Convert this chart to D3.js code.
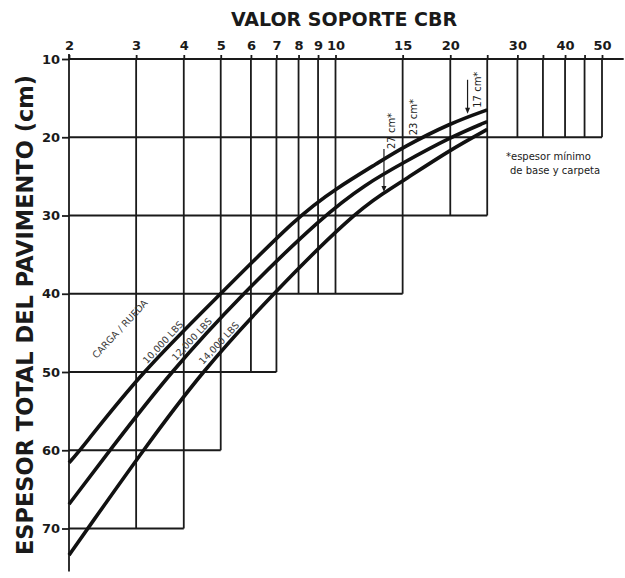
<!DOCTYPE html>
<html>
<head>
<meta charset="utf-8">
<script src="https://cdn.jsdelivr.net/npm/d3@7"></script>
<style>
  html, body { margin: 0; padding: 0; background: #fff; }
  svg { display: block; }
</style>
</head>
<body>
<svg id="chart" width="625" height="578"></svg>
<script>
// CBR axis ticks (log scale) and their printed labels
const cbrTicks  = [2, 3, 4, 5, 6, 7, 8, 9, 10, 15, 20, 25, 30, 35, 40, 45, 50];
const cbrLabels = ["2","3","4","5","6","7","8","9","10","15","20","","30","","40","","50"];
// depth (cm) reached by each vertical guide line
const cbrLineDepth = [75.5, 70, 70, 60, 50, 50, 40, 40, 40, 40, 30, 30, 20, 20, 20, 20, 20];

// thickness ticks and the CBR value each horizontal guide reaches
const cmTicks = [10, 20, 30, 40, 50, 60, 70];
const cmLineReach = [57, 50, 25, 15, 7, 5, 4];

// design curves: total pavement thickness vs CBR, one per wheel load
const cbr10k = [2, 2.14, 3.1, 5, 8, 10, 13, 15, 20, 25];
const cm10k  = [61.6, 60, 50, 40, 30, 26.6, 23.2, 21.3, 18.2, 16.5];
const cbr12k = [2, 2.56, 3.69, 5.7, 9.3, 12, 15, 20, 25];
const cm12k  = [66.9, 60, 50, 40, 30, 26.0, 23.3, 20.0, 18.0];
const cbr14k = [2, 2.24, 3.13, 4.45, 6.85, 11.0, 13.5, 15, 20, 25];
const cm14k  = [73.4, 70, 60, 50, 40, 30, 27.0, 25.6, 21.6, 19.0];

// curve labels placed at (CBR, cm)
const loadLabels = ["CARGA / RUEDA", "10,000 LBS", "12,000 LBS", "14,000 LBS"];
const loadLabelCbr = [2.72, 3.53, 4.20, 4.95];
const loadLabelCm  = [44.5, 46.2, 45.8, 46.3];

// minimum base + surface thickness notes
const minTexts = ["27 cm*", "23 cm*", "17 cm*"];
const minCbr   = [13.4, 15, 22.2];
const minCm    = [27, 23, 17];

const svg = d3.select("#chart");
const x = d3.scaleLog().domain([2, 50]).range([69, 602]);
const y = d3.scaleLinear().domain([10, 70]).range([59, 528.5]);

const ink = "#1a1a1a";
const font = "'DejaVu Sans', sans-serif";

// title
svg.append("text")
  .attr("x", 344).attr("y", 26)
  .attr("text-anchor", "middle")
  .attr("font-family", font).attr("font-weight", "bold")
  .attr("font-size", 19).attr("fill", ink)
  .text("VALOR SOPORTE CBR");

// y title
svg.append("text")
  .attr("transform", `translate(33,${315}) rotate(-90)`)
  .attr("text-anchor", "middle")
  .attr("font-family", font).attr("font-weight", "bold")
  .attr("font-size", 22.5).attr("fill", ink)
  .text("ESPESOR TOTAL DEL PAVIMENTO (cm)");

// guide grid
const grid = svg.append("g").attr("stroke", ink).attr("stroke-width", 1.8).attr("fill", "none");
grid.selectAll("line.v").data(cbrTicks).join("line").attr("class", "v")
  .attr("x1", d => x(d)).attr("x2", d => x(d))
  .attr("y1", (d, i) => i === 0 ? y(10) - 5 : y(10))
  .attr("y2", (d, i) => y(cbrLineDepth[i]));
grid.selectAll("line.h").data(cmTicks).join("line").attr("class", "h")
  .attr("x1", x(2)).attr("x2", (d, i) => x(cmLineReach[i]))
  .attr("y1", d => y(d)).attr("y2", d => y(d));

// axes
const xAxis = d3.axisTop(x).tickValues(cbrTicks)
  .tickFormat((d, i) => cbrLabels[i]).tickSize(4).tickPadding(5);
const gx = svg.append("g").attr("transform", `translate(0,${y(10)})`).call(xAxis);
gx.select(".domain").remove();
gx.selectAll(".tick line").attr("stroke", ink).attr("stroke-width", 1.8);
gx.selectAll(".tick text").attr("font-family", font).attr("font-weight", "bold")
  .attr("font-size", 13).attr("fill", ink);

const yAxis = d3.axisLeft(y).tickValues(cmTicks).tickSize(7).tickPadding(2);
const gy = svg.append("g").attr("transform", `translate(${x(2)},0)`).call(yAxis);
gy.select(".domain").remove();
gy.selectAll(".tick line").attr("stroke", ink).attr("stroke-width", 1.8);
gy.selectAll(".tick text").attr("font-family", font).attr("font-weight", "bold")
  .attr("font-size", 13).attr("fill", ink);

// design curves (smoothed B-spline through the read points)
const line = d3.line().x(d => x(d[0])).y(d => y(d[1])).curve(d3.curveBasis);
const curves = [
  d3.zip(cbr10k, cm10k),
  d3.zip(cbr12k, cm12k),
  d3.zip(cbr14k, cm14k)
];
svg.append("g").selectAll("path").data(curves).join("path")
  .attr("d", line)
  .attr("fill", "none").attr("stroke", "#111").attr("stroke-width", 3.6)
  .attr("stroke-linecap", "butt");

// rotated load labels
svg.append("g").selectAll("text").data(loadLabels).join("text")
  .attr("transform", (d, i) => `translate(${x(loadLabelCbr[i])},${y(loadLabelCm[i])}) rotate(-47)`)
  .attr("text-anchor", "middle").attr("dy", "0.35em")
  .attr("font-family", font).attr("font-size", 9.5).attr("fill", "#3a3a3a")
  .text(d => d);

// minimum thickness notes
const notes = svg.append("g").attr("font-family", font).attr("font-size", 10).attr("fill", ink);
// 27 cm: arrow under the text pointing down onto the curve
{
  const ax = x(minCbr[0]), tip = y(minCm[0]);
  notes.append("line").attr("x1", ax).attr("x2", ax).attr("y1", tip - 43).attr("y2", tip - 5)
    .attr("stroke", ink).attr("stroke-width", 1.2);
  notes.append("path").attr("d", `M${ax - 2.5},${tip - 6}L${ax + 2.5},${tip - 6}L${ax},${tip}Z`).attr("fill", ink);
  notes.append("text").attr("transform", `translate(${ax + 11},${tip - 43}) rotate(-90)`).text(minTexts[0]);
}
// 23 cm: text alongside the CBR 15 guide
{
  const ax = x(minCbr[1]);
  notes.append("text").attr("transform", `translate(${ax + 14},${y(20) - 2}) rotate(-90)`).text(minTexts[1]);
}
// 17 cm: arrow beside the text
{
  const ax = x(minCbr[2]), tip = y(minCm[2]);
  notes.append("line").attr("x1", ax).attr("x2", ax).attr("y1", tip - 34).attr("y2", tip - 5)
    .attr("stroke", ink).attr("stroke-width", 1.2);
  notes.append("path").attr("d", `M${ax - 2.5},${tip - 6}L${ax + 2.5},${tip - 6}L${ax},${tip}Z`).attr("fill", ink);
  notes.append("text").attr("transform", `translate(${ax + 13},${tip - 6}) rotate(-90)`).text(minTexts[2]);
}

// footnote
const foot = svg.append("text").attr("font-family", font).attr("font-size", 10).attr("fill", ink);
foot.append("tspan").attr("x", 506).attr("y", 160).text("*espesor mínimo");
foot.append("tspan").attr("x", 510).attr("y", 174).text("de base y carpeta");
</script>
</body>
</html>
